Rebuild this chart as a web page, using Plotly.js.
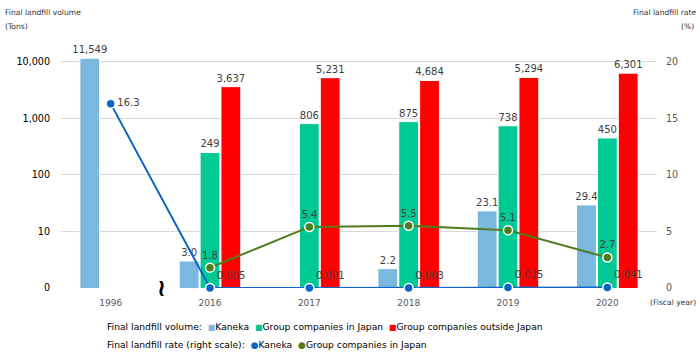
<!DOCTYPE html>
<html><head><meta charset="utf-8">
<script src="https://cdn.plot.ly/plotly-3.0.1.min.js"></script>
<style>html,body{margin:0;padding:0;background:#fff}#chart{width:700px;height:357px}</style>
</head><body><div id="chart"></div>
<script>
const years = ["1996", "2016", "2017", "2018", "2019", "2020"];
const volKaneka = [11549, 3.0, 0.9, 2.2, 23.1, 29.4];
const volGroupJapan = [null, 249, 806, 875, 738, 450];
const volGroupOutside = [null, 3637, 5231, 4684, 5294, 6301];
const rateKaneka = [16.3, 0.005, 0.001, 0.003, 0.035, 0.041];
const rateKanekaLabels = ["16.3", "0.005", "0.001", "0.003", "0.035", "0.041"];
const rateGroupJapan = [null, 1.8, 5.4, 5.5, 5.1, 2.7];
const leftTickVals = [1, 10, 100, 1000, 10000];
const leftTickText = ["0", "10", "100", "1,000", "10,000"];
const rightTickVals = [0, 5, 10, 15, 20];

const C = {kaneka:'#7AB8E0', gj:'#00C994', go:'#FF0000', lk:'#0B63C5', lg:'#4E7C1E'};
const FONT = 'DejaVu Sans, Verdana, sans-serif';
const fmtVol = v => v == null ? '' : (v >= 100 ? v.toLocaleString('en-US') : v.toFixed(1));

const barBase = {type:'bar', x: years, textposition:'outside', cliponaxis:false, constraintext:'none',
  textfont:{family:FONT, size:10, color:'#404040'}, hoverinfo:'skip'};

const traces = [
  Object.assign({}, barBase, {name:'Kaneka', y: volKaneka, text: volKaneka.map(fmtVol), marker:{color:C.kaneka, line:{color:'#ffffff', width:1}}}),
  Object.assign({}, barBase, {name:'Group companies in Japan', y: volGroupJapan, text: volGroupJapan.map(fmtVol), marker:{color:C.gj, line:{color:'#ffffff', width:1}}}),
  Object.assign({}, barBase, {name:'Group companies outside Japan', y: volGroupOutside, text: volGroupOutside.map(fmtVol), marker:{color:C.go, line:{color:'#ffffff', width:1}}}),
  {type:'scatter', mode:'lines+markers+text', x: years, y: rateKaneka, yaxis:'y2', name:'Kaneka rate',
   line:{color:C.lk, width:2}, marker:{color:C.lk, size:9, line:{color:'#ffffff', width:1.5}},
   text: rateKanekaLabels, textposition:['middle right','top right','top right','top right','top right','top right'],
   textfont:{family:FONT, size:10, color:'#404040'}, cliponaxis:false, hoverinfo:'skip'},
  {type:'scatter', mode:'lines+markers+text', x: years, y: rateGroupJapan, yaxis:'y2', name:'Group rate',
   line:{color:C.lg, width:2}, marker:{color:C.lg, size:9, line:{color:'#ffffff', width:1.5}},
   text: rateGroupJapan.map(v => v == null ? '' : v.toFixed(1)), textposition:'top center',
   textfont:{family:FONT, size:10, color:'#404040'}, cliponaxis:false, hoverinfo:'skip'}
];

const sq = c => `<span style="color:${c};font-size:8px">■</span>`;
const dot = c => `<span style="color:${c};font-size:9px">●</span>`;
const px = v => (v - 61) / 596;
const py = v => (288 - v) / 246;

const layout = {
  width:700, height:357, margin:{l:61, r:43, t:42, b:69},
  paper_bgcolor:'#fff', plot_bgcolor:'#fff', showlegend:false,
  barmode:'group', bargap:0.37, bargroupgap:0.05,
  font:{family:FONT, size:10, color:'#333'},
  xaxis:{type:'category', showgrid:false, zeroline:false, showline:false, ticks:'',
    tickfont:{family:FONT, size:9, color:'#595959'}, ticklabelstandoff:8},
  yaxis:{type:'log', range:[0, 4.35], tickvals:leftTickVals, ticktext:leftTickText,
    showgrid:true, gridcolor:'#D9D9D9', gridwidth:1, zeroline:false, showline:false, ticks:'',
    tickfont:{family:FONT, size:9.6, color:'#000'}, ticklabelstandoff:10},
  yaxis2:{overlaying:'y', side:'right', range:[0, 21.75], tickvals:rightTickVals,
    showgrid:false, zeroline:false, showline:false, ticks:'',
    tickfont:{family:FONT, size:9.6, color:'#595959'}, ticklabelstandoff:8},
  annotations:[
    {xref:'paper', yref:'paper', x:px(3), y:py(13), xanchor:'left', yanchor:'middle', showarrow:false,
     text:'Final landfill volume', font:{family:FONT, size:7.6, color:'#333'}},
    {xref:'paper', yref:'paper', x:px(3), y:py(26), xanchor:'left', yanchor:'middle', showarrow:false,
     text:'(Tons)', font:{family:FONT, size:7.6, color:'#333'}},
    {xref:'paper', yref:'paper', x:px(698), y:py(13), xanchor:'right', yanchor:'middle', showarrow:false,
     text:'Final landfill rate', font:{family:FONT, size:7.6, color:'#333'}},
    {xref:'paper', yref:'paper', x:px(696), y:py(26), xanchor:'right', yanchor:'middle', showarrow:false,
     text:'(%)', font:{family:FONT, size:7.6, color:'#333'}},
    {xref:'paper', yref:'paper', x:px(698), y:py(302), xanchor:'right', yanchor:'middle', showarrow:false,
     text:'(Fiscal year)', font:{family:FONT, size:7.6, color:'#333'}},
    {xref:'paper', yref:'paper', x:px(161), y:py(288), xanchor:'center', yanchor:'middle', showarrow:false,
     text:'<b>≀</b>', font:{family:FONT, size:24, color:'#000'}},
    {xref:'paper', yref:'paper', x:px(105), y:py(326), xanchor:'left', yanchor:'middle', showarrow:false, align:'left',
     text:`Final landfill volume:  ${sq(C.kaneka)}Kaneka  ${sq(C.gj)}Group companies in Japan  ${sq(C.go)}Group companies outside Japan`,
     font:{family:FONT, size:9.2, color:'#000'}},
    {xref:'paper', yref:'paper', x:px(105), y:py(344), xanchor:'left', yanchor:'middle', showarrow:false, align:'left',
     text:`Final landfill rate (right scale):  ${dot(C.lk)}Kaneka  ${dot(C.lg)}Group companies in Japan`,
     font:{family:FONT, size:9.2, color:'#000'}}
  ]
};

Plotly.newPlot('chart', traces, layout, {staticPlot:true, displayModeBar:false});
</script></body></html>
